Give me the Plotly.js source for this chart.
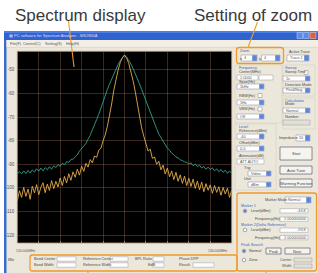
<!DOCTYPE html>
<html>
<head>
<meta charset="utf-8">
<script src="https://cdn.plot.ly/plotly-3.0.1.min.js"></script>
<style>
html,body{margin:0;padding:0;background:#fff;}
#chart{width:318px;height:273px;}
</style>
</head>
<body>
<div id="chart"></div>
<script>
// ---- data (frequency in divisions, level in dBm) ----
const freqDiv = [];
for (let i = 0; i <= 100; i++) freqDiv.push(i / 10);

const trace1Level = [
-94.2,-93.1,-94.0,-92.8,-93.9,-92.6,-93.7,-92.4,-93.3,-91.9,
-92.9,-91.6,-92.8,-91.4,-92.3,-91.0,-92.1,-90.6,-91.4,-90.1,
-90.8,-89.6,-90.2,-88.9,-89.2,-88.0,-87.8,-86.7,-86.0,-84.4,
-83.3,-82.2,-81.2,-79.3,-77.8,-75.4,-73.5,-71.1,-68.8,-66.0,
-63.2,-60.9,-58.4,-56.1,-53.9,-51.6,-49.6,-47.8,-46.2,-44.8,
-43.8,-44.7,-46.0,-47.6,-49.5,-51.5,-53.8,-56.0,-58.3,-60.8,
-63.3,-65.9,-68.4,-70.8,-73.1,-75.0,-77.2,-78.7,-80.6,-81.7,
-83.2,-84.0,-85.3,-85.9,-86.9,-87.3,-88.1,-88.4,-89.0,-89.2,
-89.8,-89.4,-90.6,-89.9,-91.0,-90.4,-91.6,-90.9,-92.1,-91.2,
-92.3,-91.5,-92.8,-91.9,-93.1,-92.2,-93.4,-92.5,-93.8,-92.8,
-93.9
];

const trace2Level = [
-105.5,-101.2,-104.0,-99.8,-103.6,-100.5,-104.8,-99.3,-102.1,-98.6,
-102.9,-99.7,-97.8,-102.0,-98.4,-101.1,-96.9,-100.3,-97.2,-99.6,
-95.8,-99.0,-95.1,-97.9,-94.0,-96.8,-93.2,-95.5,-92.1,-94.6,
-90.8,-93.0,-89.6,-91.2,-88.0,-89.4,-86.5,-87.1,-84.0,-83.2,
-80.1,-77.6,-74.0,-69.8,-64.5,-58.7,-54.0,-50.2,-47.0,-44.9,
-43.8,-45.1,-47.4,-50.8,-54.6,-59.2,-65.0,-70.3,-74.6,-78.1,
-80.8,-84.4,-83.6,-87.5,-86.9,-90.0,-88.7,-92.3,-90.4,-94.1,
-91.6,-95.3,-92.8,-96.5,-93.4,-97.2,-94.5,-98.1,-95.0,-99.0,
-95.9,-99.4,-96.3,-100.2,-97.1,-100.8,-97.5,-101.6,-98.2,-101.0,
-98.7,-102.3,-99.0,-101.9,-99.5,-103.1,-99.8,-102.6,-100.1,-104.0,
-100.9
];

const levelTicks = [-50,-60,-70,-80,-90,-100,-110,-120];
const levelTickLabels = ['-50','-60','-70','-80','-90','-100','-110','-120'];

// ---- helpers for the window chrome (pixel -> paper) ----
const W = 318, H = 273;
const shapes = [], annotations = [];
const FAM = 'Liberation Sans, Arial, sans-serif';
function R(x0,y0,x1,y1,fill,line,lw,layer){
  shapes.push({type:'rect',xref:'paper',yref:'paper',x0:x0/W,x1:x1/W,y0:1-y1/H,y1:1-y0/H,
    fillcolor:fill,line:{color:line||'rgba(0,0,0,0)',width:lw===undefined?(line?0.6:0):lw},layer:layer||'below'});
}
function L(x0,y0,x1,y1,color,w,layer){
  shapes.push({type:'line',xref:'paper',yref:'paper',x0:x0/W,x1:x1/W,y0:1-y0/H,y1:1-y1/H,
    line:{color:color,width:w||1},layer:layer||'above'});
}
function C(cx,cy,r,fill,line){
  shapes.push({type:'circle',xref:'paper',yref:'paper',x0:(cx-r)/W,x1:(cx+r)/W,y0:1-(cy+r)/H,y1:1-(cy-r)/H,
    fillcolor:fill,line:{color:line,width:0.6},layer:'below'});
}
function RR(x0,y0,x1,y1,r,color,w){
  const X=v=>v/W, Y=v=>1-v/H;
  const p='M'+X(x0+r)+','+Y(y0)+' L'+X(x1-r)+','+Y(y0)+' Q'+X(x1)+','+Y(y0)+' '+X(x1)+','+Y(y0+r)+
    ' L'+X(x1)+','+Y(y1-r)+' Q'+X(x1)+','+Y(y1)+' '+X(x1-r)+','+Y(y1)+
    ' L'+X(x0+r)+','+Y(y1)+' Q'+X(x0)+','+Y(y1)+' '+X(x0)+','+Y(y1-r)+
    ' L'+X(x0)+','+Y(y0+r)+' Q'+X(x0)+','+Y(y0)+' '+X(x0+r)+','+Y(y0)+' Z';
  shapes.push({type:'path',xref:'paper',yref:'paper',path:p,line:{color:color,width:w},fillcolor:'rgba(0,0,0,0)',layer:'above'});
}
function T(x,y,txt,size,color,anchor){
  annotations.push({xref:'paper',yref:'paper',x:x/W,y:1-y/H,text:txt,showarrow:false,
    font:{size:size||4,color:color||'#4a4a4a',family:FAM},xanchor:anchor||'left',yanchor:'middle',borderpad:0});
}
function DD(x0,y0,x1,y1,txt){
  R(x0,y0,x1,y1,'#ffffff','#9a9aa8',0.6);
  R(x1-4.5,y0+0.5,x1-0.5,y1-0.5,'#5a86e0','#3a62c0',0.4);
  T(x0+1.5,(y0+y1)/2,txt,3.8,'#555');
}
function BOX(x0,y0,x1,y1,txt,fill,anchorRight){
  R(x0,y0,x1,y1,fill||'#ffffff','#a8a8b0',0.6);
  if (txt) {
    if (anchorRight) T(x1-1,(y0+y1)/2,txt,3.8,'#555','right');
    else T(x0+1.5,(y0+y1)/2,txt,3.8,'#555');
  }
}
function BTN(x0,y0,x1,y1,txt){
  R(x0,y0,x1,y1,'#f6f4ee','#6e6e88',0.8);
  T((x0+x1)/2,(y0+y1)/2,txt,4,'#444','center');
}
const GB = '#3f5fc0';

// window
R(4,31,318,273,'#ebe7da');
R(4,31,6.5,273,'#3a6ccc');
R(4,31,318,40,'#2f63d0');
R(4,31,318,33,'#4d80e6');
T(8,35.5,'&#9638; PC software for Spectrum Analyzer - MS2830A',4,'#e8d8f0');
R(297,32.5,302.5,38.5,'#5b8ae8','#c8d6f8',0.5);
R(303.5,32.5,309,38.5,'#5b8ae8','#c8d6f8',0.5);
R(310,32.5,316,38.5,'#e0603a','#f8d0c0',0.5);
R(6.5,40,318,47,'#f3efe4');
T(9,43.5,'File(F)',3.8,'#555');
T(22,43.5,'Control(C)',3.8,'#555');
T(44,43.5,'Setting(S)',3.8,'#555');
T(65,43.5,'Help(H)',3.8,'#555');
L(6.5,47.3,318,47.3,'#d4d0c4',0.6,'below');

// plot area
R(17.3,51.3,231.7,243,'#000000','#c89070',0.8);

// right panel group frames
R(235,65,282,123,'rgba(0,0,0,0)','#cfcabd',0.5);
R(283,65,315,96,'rgba(0,0,0,0)','#cfcabd',0.5);
R(283,98,315,129,'rgba(0,0,0,0)','#cfcabd',0.5);
R(235,124,276,190,'rgba(0,0,0,0)','#cfcabd',0.5);

// zoom group
T(239,50.5,'Zoom',3.6,GB);
T(238.5,58,'x',4,'#444');
DD(241,55,257,61,'4');
T(258.3,58,'y',4,'#444');
DD(261.5,55,280,61,'4');
T(288,51.5,'Active Trace',3.8);
DD(287,55,309,61,'Trace 1');

// frequency
T(238,68,'Frequency',3.8,GB);
T(238,72.5,'Center(MHz)',3.8);
BOX(237,75,258,80,'2.0000');
BOX(259,75,273,80,'');
T(238,82,'Span(Hz)',3.8);
DD(237,84,264,89,'1kHz');
T(238,95.5,'RBW(Hz)',3.8);
R(258,93.5,262,97.5,'#ffffff','#808080',0.5);
DD(237,100,264,105,'1Hz');
T(238,109,'VBW(Hz)',3.8);
R(258,107,262,111,'#ffffff','#808080',0.5);
DD(237,114,264,119,'Off');

// level
T(238,126.5,'Level',3.8,GB);
T(238,130.5,'Reference(dBm)',3.8);
DD(237,134,264,139,'-40');
T(238,143,'Offset(dBm)',3.8);
DD(237,146,264,151,'0.0');
T(238,156,'Attenuator(dB)',3.8);
BOX(237,159,264,164,'ATT AUTO');
T(243,168,'Trig',3.8);
DD(248,171,271,176,'Video');
T(243,178.5,'Unit',3.8);
DD(248,182,271,187,'dBm');

// sweep / calculation
T(284,68,'Sweep',3.8,GB);
T(284,72.5,'Sweep Time',3.8);
R(304,70.5,308,74.5,'#ffffff','#808080',0.5);
DD(283,76,310,81,'1s');
T(284,85,'Detection Mode',3.8);
DD(283,88,310,93,'Pos&Neg');
T(284,100.5,'Calculation',3.8,GB);
T(284,104.5,'Mode',3.8);
DD(283,108,310,113,'Normal');
T(284,117,'Number',3.8);
BOX(283,120,310,125,'','#e2dfd4');
T(278,138,'Impedance',3.8);
DD(296,135,310,141,'50');

// buttons
BTN(280,147,312,160,'Start');
BTN(280,166,312,174,'Auto Tune');
BTN(280,179,312,187,'Warming Function');

// marker box
T(264,200,'Marker Mode',3.8);
DD(285,197,311,203,'Normal');
T(240,205.5,'Marker 1',3.8,GB);
C(245,211,1.8,'#ffffff','#6070a0'); C(245,211,0.8,'#3050a0','#3050a0');
T(250,211,'Level(dBm)',3.8);
BOX(280,208.7,308,213,'-43.8','#ffffff',true);
T(254,219,'Frequency(Hz)',3.8);
BOX(280,217,308,221.3,'2.000000000','#ffffff',true);
T(240,224.5,'Marker 2(Delta Reference)',3.8,GB);
C(245,230,1.8,'#ffffff','#6070a0');
T(250,230,'Level(dBm)',3.8);
BOX(280,228,308,232.3,'-93.8','#ffffff',true);
T(254,237.5,'Frequency(Hz)',3.8);
BOX(280,235.5,308,239.8,'2.000000000','#ffffff',true);
T(240,245,'Peak Search',3.8,GB);
C(244,251,1.8,'#ffffff','#6070a0'); C(244,251,0.8,'#3050a0','#3050a0');
T(248,251,'Normal',3.8);
BTN(266,248,281,254,'Peak');
BTN(285,248,310,254,'Next');
C(244,260,1.8,'#ffffff','#6070a0');
T(248,260,'Zone',3.8);
T(293,260,'Center',3.8,'#555','right');
BOX(294,258,312,262,'','#e2dfd4');
T(293,266,'Width',3.8,'#555','right');
BOX(294,264,312,268,'','#e2dfd4');

// bottom strip
T(15,251.5,'120.000MHz',3.4,'#555');
T(229,251.5,'130.000MHz',3.4,'#555','right');
T(7,259.5,'Mkr',3.8);
T(33,259,'Band Center',3.8);
BOX(57,256.8,76,261.2,'');
T(33,265,'Band Width',3.8);
BOX(57,262.8,76,267.2,'');
T(82,259,'Reference Center',3.8);
BOX(110,256.8,128,261.2,'');
T(82,265,'Reference Width',3.8);
BOX(110,262.8,128,267.2,'');
T(134,259,'BPL Ratio',3.8);
BOX(153,256.8,164,261.2,'');
T(147,265,'EdB',3.8);
BOX(153,262.8,164,267.2,'');
T(178,259,'Phase DPP',3.8);
T(178,265,'Result',3.8);
BOX(193,262.8,214,267.2,'');

// orange callouts
const OR = '#f09a2a';
RR(236.5,47.5,283.5,63.5,2.5,OR,1.3);
RR(237,193,316.5,271,2.5,OR,1.3);
RR(30,255,237,271,2.5,OR,1.3);
L(68.5,21,74,67,OR,1.1);
L(257.5,22,248,47.5,OR,1.1);
L(88,271,88,273,OR,1.1);
L(266,271,266,273,OR,1.1);

annotations.push({xref:'paper',yref:'paper',x:14/W,y:1-15.5/H,text:'Spectrum display',showarrow:false,
  font:{size:17,color:'#3a3a3a',family:FAM},xanchor:'left',yanchor:'middle',borderpad:0});
annotations.push({xref:'paper',yref:'paper',x:313/W,y:1-15.5/H,text:'Setting of zoom',showarrow:false,
  font:{size:17,color:'#3a3a3a',family:FAM},xanchor:'right',yanchor:'middle',borderpad:0});

const traces = [
  {x:freqDiv,y:trace1Level,type:'scatter',mode:'lines',line:{color:'#34a08a',width:1},opacity:0.9,hoverinfo:'skip'},
  {x:freqDiv,y:trace2Level,type:'scatter',mode:'lines',line:{color:'#e4ac4c',width:1},opacity:0.9,hoverinfo:'skip'}
];

const layout = {
  width:W,height:H,
  margin:{l:0,r:0,t:0,b:0},
  paper_bgcolor:'#ffffff',
  plot_bgcolor:'rgba(0,0,0,0)',
  showlegend:false,
  font:{family:FAM},
  xaxis:{domain:[17.3/W,231.7/W],range:[0,10],dtick:1,tick0:0,showticklabels:false,
    showgrid:true,gridcolor:'rgba(170,110,90,0.45)',gridwidth:0.8,zeroline:false,
    ticks:'inside',ticklen:2,tickcolor:'#888',fixedrange:true},
  yaxis:{domain:[1-243/H,1-51.3/H],range:[-123.3,-42.2],tickvals:levelTicks,ticktext:levelTickLabels,
    showgrid:true,gridcolor:'rgba(170,110,90,0.45)',gridwidth:0.8,zeroline:false,
    tickfont:{size:4.5,color:'#555',family:FAM},ticks:'',ticklabelstandoff:2,fixedrange:true},
  shapes:shapes,
  annotations:annotations
};

Plotly.newPlot('chart',traces,layout,{displayModeBar:false,staticPlot:true});
</script>
</body>
</html>
